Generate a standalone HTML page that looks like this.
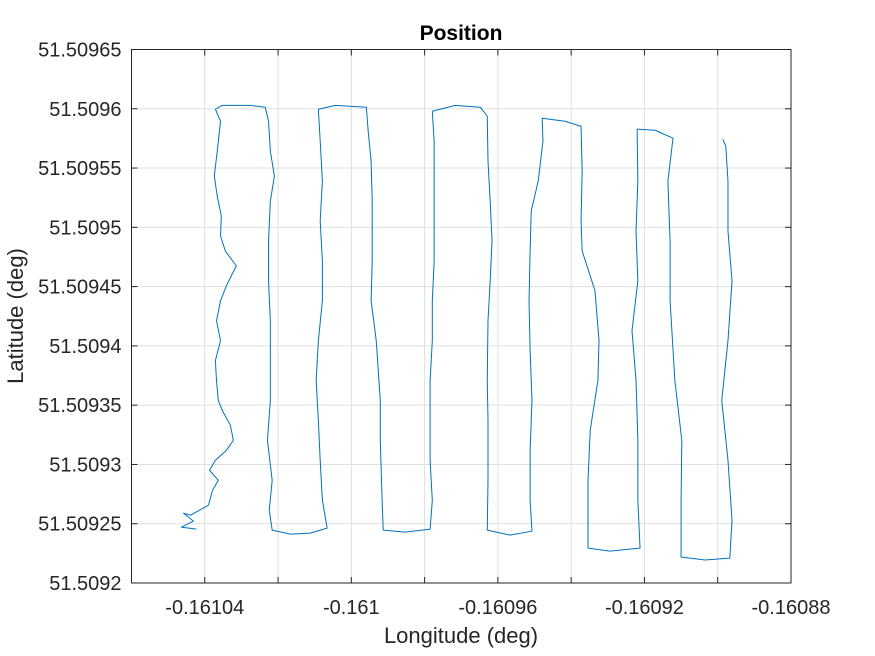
<!DOCTYPE html>
<html><head><meta charset="utf-8"><style>
html,body{margin:0;padding:0;background:#fff;}
svg{display:block;font-family:"Liberation Sans",Arial,sans-serif;}
</style></head><body>
<svg id="chart" width="875" height="656" viewBox="0 0 875 656" xmlns="http://www.w3.org/2000/svg">
<rect x="0" y="0" width="875" height="656" fill="#fff"/>
<rect x="131.5" y="49.5" width="659.5" height="533.5" fill="#fff"/>
<g id="grid"></g>
<g id="series"></g>
<g id="axes"></g>
<text x="461" y="40" text-anchor="middle" font-size="21" font-weight="bold" fill="#000">Position</text>
<text x="461" y="643" text-anchor="middle" font-size="22" fill="#262626">Longitude (deg)</text>
<text x="23" y="316" text-anchor="middle" font-size="22" fill="#262626" transform="rotate(-90 23 316)">Latitude (deg)</text>
</svg>
<script>
const xTicks = [-0.16106, -0.16104, -0.16102, -0.16100, -0.16098, -0.16096, -0.16094, -0.16092, -0.16090, -0.16088];
const xTickLabels = ["", "-0.16104", "", "-0.161", "", "-0.16096", "", "-0.16092", "", "-0.16088"];
const yTicks = [51.5092, 51.50925, 51.5093, 51.50935, 51.5094, 51.50945, 51.5095, 51.50955, 51.5096, 51.50965];
const yTickLabels = ["51.5092", "51.50925", "51.5093", "51.50935", "51.5094", "51.50945", "51.5095", "51.50955", "51.5096", "51.50965"];
const lonData = [-0.1610423,-0.1610464,-0.1610431,-0.1610458,-0.1610439,-0.1610390,-0.1610379,-0.1610363,-0.1610387,-0.1610371,
-0.1610341,-0.1610322,-0.1610330,-0.1610352,-0.1610363,-0.1610368,-0.1610371,-0.1610357,-0.1610368,-0.1610357,
-0.1610341,-0.1610314,-0.1610344,-0.1610357,-0.1610355,-0.1610366,-0.1610374,-0.1610366,-0.1610357,-0.1610371,
-0.1610352,-0.1610276,-0.1610235,-0.1610226,-0.1610221,-0.1610210,-0.1610221,-0.1610226,-0.1610226,-0.1610221,
-0.1610221,-0.1610221,-0.1610229,-0.1610216,-0.1610224,-0.1610216,-0.1610166,-0.1610112,-0.1610066,-0.1610079,
-0.1610085,-0.1610090,-0.1610096,-0.1610090,-0.1610079,-0.1610079,-0.1610085,-0.1610079,-0.1610085,-0.1610090,
-0.1610044,-0.1609959,-0.1609954,-0.1609946,-0.1609943,-0.1609943,-0.1609946,-0.1609932,-0.1609921,-0.1609921,
-0.1609916,-0.1609913,-0.1609853,-0.1609785,-0.1609779,-0.1609785,-0.1609785,-0.1609785,-0.1609779,-0.1609779,
-0.1609774,-0.1609774,-0.1609774,-0.1609774,-0.1609779,-0.1609717,-0.1609648,-0.1609629,-0.1609627,-0.1609621,
-0.1609616,-0.1609621,-0.1609627,-0.1609629,-0.1609627,-0.1609627,-0.1609629,-0.1609567,-0.1609507,-0.1609512,
-0.1609512,-0.1609507,-0.1609512,-0.1609515,-0.1609512,-0.1609509,-0.1609490,-0.1609477,-0.1609479,-0.1609417,
-0.1609373,-0.1609370,-0.1609373,-0.1609370,-0.1609335,-0.1609324,-0.1609327,-0.1609348,-0.1609354,-0.1609354,
-0.1609294,-0.1609212,-0.1609218,-0.1609218,-0.1609223,-0.1609234,-0.1609218,-0.1609223,-0.1609218,-0.1609220,
-0.1609171,-0.1609122,-0.1609136,-0.1609130,-0.1609130,-0.1609117,-0.1609098,-0.1609100,-0.1609100,-0.1609035,
-0.1608967,-0.1608961,-0.1608972,-0.1608989,-0.1608972,-0.1608961,-0.1608972,-0.1608972,-0.1608978,-0.1608986];
const latData = [51.5092454,51.5092471,51.5092522,51.5092589,51.5092572,51.5092656,51.5092782,51.5092866,51.5092951,51.5093035,
51.5093119,51.5093203,51.5093329,51.5093455,51.5093539,51.5093708,51.5093876,51.5094044,51.5094212,51.5094381,
51.5094507,51.5094675,51.5094801,51.5094927,51.5095096,51.5095264,51.5095432,51.5095642,51.5095895,51.5095996,
51.5096029,51.5096029,51.5096013,51.5095895,51.5095642,51.5095432,51.5095222,51.5094885,51.5094549,51.5094212,
51.5093876,51.5093539,51.5093203,51.5092866,51.5092614,51.5092446,51.5092412,51.5092421,51.5092463,51.5092698,
51.5093035,51.5093371,51.5093708,51.5094044,51.5094381,51.5094717,51.5095054,51.5095390,51.5095727,51.5095996,
51.5096029,51.5096013,51.5095811,51.5095558,51.5095222,51.5094717,51.5094381,51.5094044,51.5093539,51.5093203,
51.5092698,51.5092446,51.5092429,51.5092454,51.5092698,51.5093035,51.5093371,51.5093708,51.5094044,51.5094381,
51.5094717,51.5095054,51.5095390,51.5095727,51.5095979,51.5096029,51.5096013,51.5095937,51.5095558,51.5095222,
51.5094885,51.5094549,51.5094212,51.5093708,51.5093371,51.5092866,51.5092446,51.5092404,51.5092437,51.5092698,
51.5093119,51.5093539,51.5093960,51.5094381,51.5094801,51.5095138,51.5095390,51.5095727,51.5095920,51.5095895,
51.5095853,51.5095474,51.5095054,51.5094801,51.5094465,51.5094044,51.5093708,51.5093287,51.5092866,51.5092294,
51.5092269,51.5092294,51.5092698,51.5093203,51.5093708,51.5094128,51.5094549,51.5094969,51.5095390,51.5095828,
51.5095819,51.5095752,51.5095390,51.5094885,51.5094381,51.5093708,51.5093203,51.5092698,51.5092219,51.5092194,
51.5092210,51.5092530,51.5093035,51.5093539,51.5094044,51.5094549,51.5094969,51.5095390,51.5095685,51.5095743];

const L = 131.5, R = 791, T = 49.5, B = 583;
const xMin = -0.16106, xMax = -0.16088, yMin = 51.5092, yMax = 51.50965;
function xScale(v){ return L + (v - xMin) / (xMax - xMin) * (R - L); }
function yScale(v){ return B - (v - yMin) / (yMax - yMin) * (B - T); }
const NS = "http://www.w3.org/2000/svg";
function mk(tag, attrs, parent){ const e = document.createElementNS(NS, tag); for (const k in attrs) e.setAttribute(k, attrs[k]); parent.appendChild(e); return e; }
const grid = document.getElementById('grid'), axes = document.getElementById('axes'), series = document.getElementById('series');

xTicks.forEach((v, i) => {
  const x = xScale(v);
  const g = mk('line', {x1:x, x2:x, y1:T, y2:B, stroke:'#dfdfdf', 'stroke-width':1}, grid);
  
  
  const t1 = mk('line', {x1:x, x2:x, y1:B, y2:B-6, stroke:'#262626', 'stroke-width':1}, axes);
  
  
  const t2 = mk('line', {x1:x, x2:x, y1:T, y2:T+6, stroke:'#262626', 'stroke-width':1}, axes);
  
  
  if (xTickLabels[i]) {
    const lab = mk('text', {x:x, y:B+31, 'text-anchor':'middle', 'font-size':20, fill:'#262626'}, axes);
    lab.textContent = xTickLabels[i];
    
    
  }
});
yTicks.forEach((v, i) => {
  const y = yScale(v);
  const g = mk('line', {x1:L, x2:R, y1:y, y2:y, stroke:'#dfdfdf', 'stroke-width':1}, grid);
  
  
  const t1 = mk('line', {x1:L, x2:L+6, y1:y, y2:y, stroke:'#262626', 'stroke-width':1}, axes);
  
  
  const t2 = mk('line', {x1:R, x2:R-6, y1:y, y2:y, stroke:'#262626', 'stroke-width':1}, axes);
  
  
  const lab = mk('text', {x:L-10, y:y+7, 'text-anchor':'end', 'font-size':20, fill:'#262626'}, axes);
  lab.textContent = yTickLabels[i];
  
  
});
const box = mk('rect', {x:L, y:T, width:R-L, height:B-T, fill:'none', stroke:'#262626', 'stroke-width':1}, axes);



const pts = lonData.map((v, i) => xScale(v).toFixed(2) + ',' + yScale(latData[i]).toFixed(2)).join(' ');
const line = mk('polyline', {points:pts, fill:'none', stroke:'#0072BD', 'stroke-width':1, 'stroke-linejoin':'round'}, series);


</script>
</body></html>
